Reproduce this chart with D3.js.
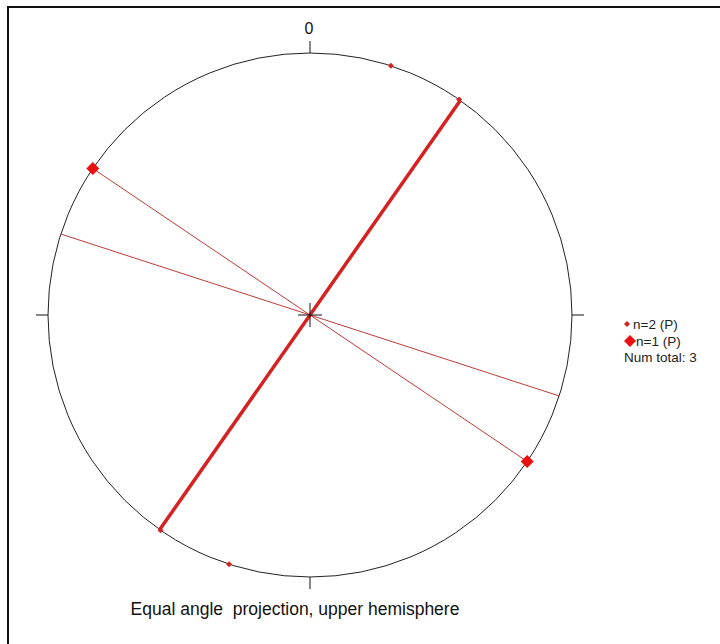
<!DOCTYPE html>
<html>
<head>
<meta charset="utf-8">
<script src="https://cdn.jsdelivr.net/npm/d3@7"></script>
<style>
  html, body { margin: 0; padding: 0; background: #fff; }
  svg { display: block; }
  text { white-space: pre; }
</style>
</head>
<body>
<script>
// ---- data (azimuths in degrees, clockwise from north) ----
const planeStrikes = [35, 124, 108];            // vertical planes drawn as diameters
const planeWeights = ["thick", "thin", "thin"];
const smallPoleAz = [18, 34.7, 198, 214.8];     // n=2 (P), on primitive
const bigPoleAz = [124, 304];                   // n=1 (P), on primitive
const legendLabels = ["n=2 (P)", "n=1 (P)"];
const totalLabel = "Num total: 3";
const northLabel = "0";
const titleText = "Equal angle  projection, upper hemisphere";

const W = 720, H = 644;
const cx = 310, cy = 315, R = 262;

const svg = d3.select("body").append("svg").attr("width", W).attr("height", H);
svg.append("rect").attr("x", 0).attr("y", 0).attr("width", W).attr("height", H).attr("fill", "#fff");
// frame
svg.append("rect").attr("x", 8).attr("y", 7).attr("width", W + 10).attr("height", H + 10)
  .attr("fill", "none").attr("stroke", "#111").attr("stroke-width", 2);

const ang = d3.scaleLinear().domain([0, 360]).range([0, 2 * Math.PI]);
const rad = d3.scaleLinear().domain([0, 1]).range([0, R]);
const pt = (az, r) => { const p = d3.pointRadial(ang(az), rad(r)); return [cx + p[0], cy + p[1]]; };

const g = svg.append("g");
// primitive circle
g.append("circle").attr("cx", cx).attr("cy", cy).attr("r", R)
  .attr("fill", "none").attr("stroke", "#222").attr("stroke-width", 1);
// ticks at N, E, S, W
[0, 90, 180, 270].forEach(a => {
  const p1 = pt(a, 1), p2 = pt(a, 1 + 12 / R);
  g.append("line").attr("x1", p1[0]).attr("y1", p1[1]).attr("x2", p2[0]).attr("y2", p2[1])
    .attr("stroke", "#111").attr("stroke-width", 1);
});
g.append("text").attr("x", cx - 1).attr("y", 34).attr("text-anchor", "middle")
  .attr("font-family", "Liberation Sans, Arial, sans-serif").attr("font-size", 16).attr("fill", "#111")
  .text(northLabel);

// planes (vertical great circles -> diameters)
planeStrikes.forEach((s, i) => {
  const a = pt(s, 1), b = pt(s + 180, 1);
  const thick = planeWeights[i] === "thick";
  g.append("line").attr("x1", a[0]).attr("y1", a[1]).attr("x2", b[0]).attr("y2", b[1])
    .attr("stroke", thick ? "#d42222" : "#c03a3a").attr("stroke-width", thick ? 3.5 : 1);
});

// center cross
g.append("line").attr("x1", cx - 12).attr("y1", cy).attr("x2", cx + 12).attr("y2", cy).attr("stroke", "#111").attr("stroke-width", 1);
g.append("line").attr("x1", cx).attr("y1", cy - 12).attr("x2", cx).attr("y2", cy + 12).attr("stroke", "#111").attr("stroke-width", 1);

const diamond = (x, y, h) => `M${x},${y - h}L${x + h},${y}L${x},${y + h}L${x - h},${y}Z`;
smallPoleAz.forEach(a => {
  const p = pt(a, 1);
  g.append("path").attr("d", diamond(p[0], p[1], 3)).attr("fill", "#d42222");
});
bigPoleAz.forEach(a => {
  const p = pt(a, 1);
  g.append("path").attr("d", diamond(p[0], p[1], 6.5)).attr("fill", "#e81010");
});

// legend
const lf = "Liberation Sans, Arial, sans-serif";
svg.append("path").attr("d", diamond(627, 324, 3)).attr("fill", "#d42222");
svg.append("text").attr("x", 633).attr("y", 329).attr("font-family", lf).attr("font-size", 13.5).attr("fill", "#222").text(legendLabels[0]);
svg.append("path").attr("d", diamond(630, 341, 6)).attr("fill", "#e81010");
svg.append("text").attr("x", 636).attr("y", 346).attr("font-family", lf).attr("font-size", 13.5).attr("fill", "#222").text(legendLabels[1]);
svg.append("text").attr("x", 624).attr("y", 362).attr("font-family", lf).attr("font-size", 13.5).attr("fill", "#222").text(totalLabel);

// title
svg.append("text").attr("x", 295).attr("y", 615).attr("text-anchor", "middle").attr("xml:space", "preserve")
  .attr("font-family", lf).attr("font-size", 17.5).attr("fill", "#111").text(titleText);
</script>
</body>
</html>
